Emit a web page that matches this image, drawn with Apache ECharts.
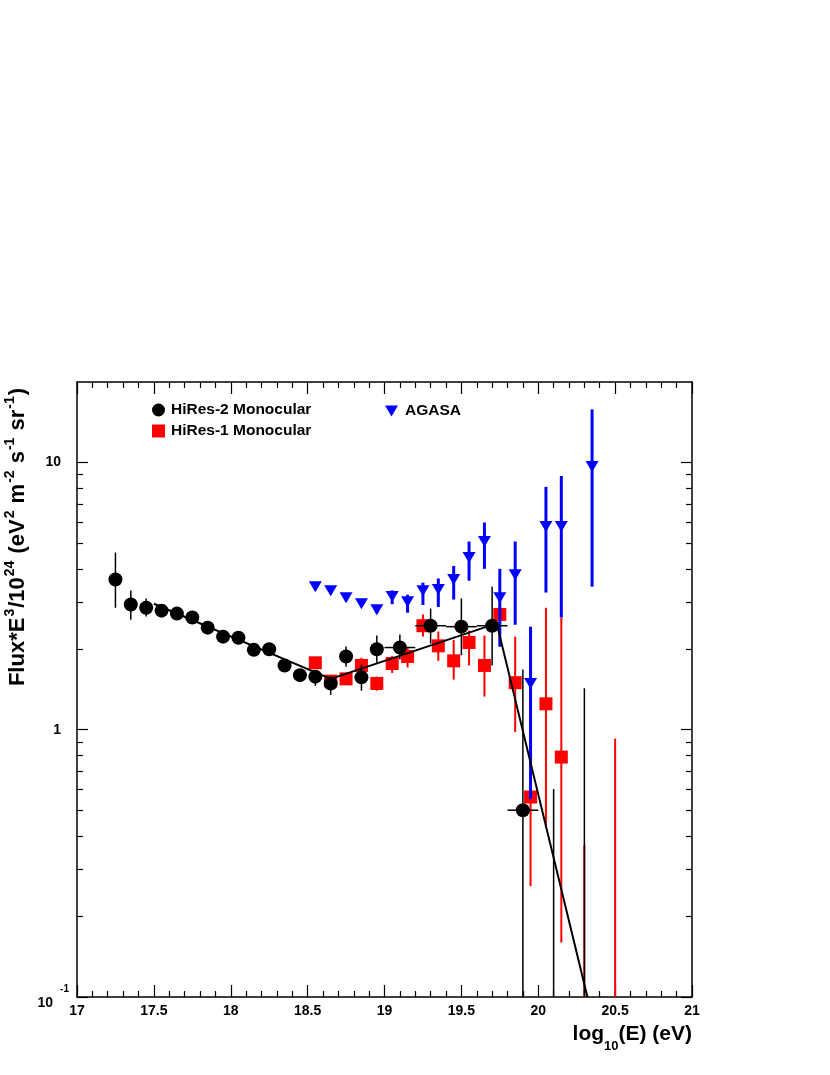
<!DOCTYPE html>
<html>
<head>
<meta charset="utf-8">
<script src="https://cdn.jsdelivr.net/npm/echarts@6/dist/echarts.min.js"></script>
<style>
  html, body { margin: 0; padding: 0; background: #fff; }
  #chart { width: 830px; height: 1075px; }
</style>
</head>
<body>
<div id="chart"></div>
<script>
    // HiRes-2 monocular (black circles)
    var hires2X = [17.25, 17.35, 17.45, 17.55, 17.65, 17.75, 17.85, 17.95, 18.05, 18.15, 18.25, 18.35, 18.45, 18.55, 18.65, 18.75, 18.85, 18.95, 19.1, 19.3, 19.5, 19.7, 19.9];
    var hires2Y = [3.65, 2.94, 2.86, 2.79, 2.72, 2.63, 2.41, 2.23, 2.21, 1.99, 2.0, 1.74, 1.60, 1.58, 1.49, 1.88, 1.57, 2.0, 2.03, 2.45, 2.43, 2.45, 0.5];
    var hires2Lo = [2.86, 2.58, 2.65, 2.65, 2.6, 2.52, 2.31, 2.13, 2.11, 1.9, 1.91, 1.67, 1.51, 1.46, 1.35, 1.72, 1.40, 1.78, 1.83, 2.1, 1.9, 1.74, 0.01];
    var hires2Hi = [4.6, 3.32, 3.1, 2.93, 2.85, 2.75, 2.52, 2.34, 2.32, 2.09, 2.1, 1.82, 1.68, 1.64, 1.58, 2.05, 1.75, 2.25, 2.27, 2.84, 3.1, 3.43, 1.68];
    var hires2XErr = [0, 0, 0, 0, 0, 0, 0, 0, 0, 0, 0, 0, 0, 0, 0, 0, 0, 0, 0.1, 0.1, 0.1, 0.1, 0.1];
    // bins with only an upper error bar
    var hires2UpX = [20.1, 20.3];
    var hires2UpHi = [0.6, 1.43];

    // HiRes-1 monocular (red squares)
    var hires1X = [18.55, 18.65, 18.75, 18.85, 18.95, 19.05, 19.15, 19.25, 19.35, 19.45, 19.55, 19.65, 19.75, 19.85, 19.95, 20.05, 20.15];
    var hires1Y = [1.78, 1.52, 1.55, 1.74, 1.49, 1.77, 1.88, 2.45, 2.06, 1.81, 2.12, 1.74, 2.70, 1.50, 0.56, 1.25, 0.79];
    var hires1Lo = [1.70, 1.45, 1.48, 1.62, 1.40, 1.63, 1.71, 2.23, 1.81, 1.54, 1.74, 1.33, 2.04, 0.98, 0.26, 0.43, 0.16];
    var hires1Hi = [1.86, 1.59, 1.62, 1.86, 1.58, 1.89, 2.03, 2.70, 2.33, 2.17, 2.35, 2.25, 3.1, 2.23, 1.2, 2.86, 2.63];
    var hires1UpX = [20.3, 20.5];
    var hires1UpHi = [0.37, 0.925];

    // AGASA (blue triangles)
    var agasaX = [18.55, 18.65, 18.75, 18.85, 18.95, 19.05, 19.15, 19.25, 19.35, 19.45, 19.55, 19.65, 19.75, 19.85, 19.95, 20.05, 20.15, 20.35];
    var agasaY = [3.43, 3.31, 3.12, 2.96, 2.81, 3.15, 3.01, 3.31, 3.35, 3.65, 4.41, 5.06, 3.12, 3.8, 1.49, 5.76, 5.76, 9.66];
    var agasaLo = [3.35, 3.23, 3.04, 2.88, 2.73, 2.95, 2.74, 2.93, 2.88, 3.07, 3.61, 4.0, 2.05, 2.47, 0.55, 3.26, 2.63, 3.43];
    var agasaHi = [3.51, 3.39, 3.2, 3.04, 2.89, 3.32, 3.2, 3.55, 3.68, 4.1, 5.06, 5.96, 4.0, 5.06, 2.43, 8.1, 8.9, 15.8];

    // broken power-law fit
    var fitX = [17.5, 18.65, 19.73, 20.32];
    var fitY = [2.96, 1.55, 2.5, 0.1];

    // axis ticks
    var xMin = 17, xMax = 21, xStep = 0.5;
    var yMin = 0.1, yMax = 20;
    var yMajor = [0.1, 1, 10];
    var yMinor = [0.2, 0.3, 0.4, 0.5, 0.6, 0.7, 0.8, 0.9, 2, 3, 4, 5, 6, 7, 8, 9];

    var FONT = '"Liberation Sans", Arial, Helvetica, sans-serif';
    var triDown = 'path://M0,0 L12,0 L6,10 Z';

    function errSeries(name, xs, ys, lo, hi, xerr, color, width, z) {
        return {
            type: 'custom',
            name: name,
            z: z,
            silent: true,
            data: xs.map(function (x, i) {
                return [x, ys[i] == null ? hi[i] : ys[i], lo ? lo[i] : 0.01, hi[i], xerr ? xerr[i] : 0];
            }),
            renderItem: function (params, api) {
                var x = api.value(0), y = api.value(1);
                var l = Math.max(api.value(2), yMin);
                var h = Math.min(api.value(3), yMax);
                var ex = api.value(4);
                var style = { stroke: color, lineWidth: width };
                var kids = [];
                var a = api.coord([x, h]), b = api.coord([x, l]);
                kids.push({ type: 'line', shape: { x1: a[0], y1: a[1], x2: b[0], y2: b[1] }, style: style });
                if (ex > 0) {
                    var c = api.coord([x - ex, y]), d = api.coord([x + ex, y]);
                    kids.push({ type: 'line', shape: { x1: c[0], y1: c[1], x2: d[0], y2: d[1] }, style: style });
                }
                return { type: 'group', children: kids };
            }
        };
    }

    function pairs(xs, ys) {
        return xs.map(function (x, i) { return [x, ys[i]]; });
    }

    var axisLine = { show: true, onZero: false, lineStyle: { color: '#000', width: 1.5 } };
    var noLine = { show: false, onZero: false };

    function xAx(pos, label) {
        return {
            type: 'value', min: xMin, max: xMax, interval: xStep, position: pos,
            axisLine: axisLine,
            axisTick: { inside: true, length: 12, lineStyle: { color: '#000', width: 1.2 } },
            minorTick: { show: true, splitNumber: 5, length: 6, lineStyle: { color: '#000', width: 1.2 } },
            splitLine: { show: false },
            axisLabel: {
                show: label, margin: 7, color: '#000', fontFamily: FONT, fontWeight: 'bold', fontSize: 14,
                formatter: function (v) { return String(v); }
            }
        };
    }

    // y axis used only for tick marks
    function yTicks(pos, ticks, len) {
        return {
            type: 'log', logBase: 10, min: yMin, max: yMax, position: pos,
            axisLine: noLine,
            axisTick: { show: true, inside: true, length: len, customValues: ticks, lineStyle: { color: '#000', width: 1.2 } },
            splitLine: { show: false },
            axisLabel: { show: false }
        };
    }

    var option = {
        backgroundColor: '#fff',
        animation: false,
        grid: { left: 77, right: 138, top: 382, bottom: 78, containLabel: false },
        xAxis: [xAx('bottom', true), xAx('top', false)],
        yAxis: [
            {
                type: 'log', logBase: 10, min: yMin, max: yMax, position: 'left',
                axisLine: axisLine,
                axisTick: { show: false },
                splitLine: { show: false },
                axisLabel: {
                    customValues: yMajor, margin: 8, color: '#000',
                    fontFamily: FONT, fontWeight: 'bold', fontSize: 14,
                    formatter: function (v) {
                        if (v < 0.5) return '{b|10}{s|-1}';
                        return v > 5 ? '{n|10}' : '{n|1}';
                    },
                    rich: {
                        n: { fontFamily: FONT, fontWeight: 'bold', fontSize: 14, padding: [0, 8, 0, 0] },
                        b: { fontFamily: FONT, fontWeight: 'bold', fontSize: 14, lineHeight: 26, verticalAlign: 'bottom' },
                        s: { fontFamily: FONT, fontWeight: 'bold', fontSize: 10, lineHeight: 26, verticalAlign: 'top', padding: [0, 0, 0, 7] }
                    }
                }
            },
            yTicks('left', yMajor, 11),
            yTicks('left', yMinor, 6),
            yTicks('right', yMajor, 11),
            yTicks('right', yMinor, 6),
            {
                type: 'log', logBase: 10, min: yMin, max: yMax, position: 'right',
                axisLine: axisLine, axisTick: { show: false }, axisLabel: { show: false }, splitLine: { show: false }
            }
        ],
        legend: [
            {
                data: ['HiRes-2 Monocular', 'HiRes-1 Monocular'], orient: 'vertical',
                left: 147, top: 397, itemWidth: 13, itemHeight: 13, itemGap: 5, selectedMode: false,
                textStyle: { fontFamily: FONT, fontWeight: 'bold', fontSize: 15.5, color: '#000', padding: [0, 0, 0, 1] }
            },
            {
                data: ['AGASA'], left: 380, top: 398, itemWidth: 13, itemHeight: 11, selectedMode: false,
                textStyle: { fontFamily: FONT, fontWeight: 'bold', fontSize: 15.5, color: '#000', padding: [0, 0, 0, 2] }
            }
        ],
        graphic: [
            {
                type: 'text', x: 18, y: 537, rotation: Math.PI / 2,
                style: {
                    text: 'Flux*E{s|3}/10{s|24} (eV{s|2} m{s|-2} s{s|-1} sr{s|-1})',
                    fontFamily: FONT, fontWeight: 'bold', fontSize: 22, fill: '#000',
                    align: 'center', verticalAlign: 'middle',
                    rich: {
                        s: { fontFamily: FONT, fontWeight: 'bold', fontSize: 14, verticalAlign: 'top', lineHeight: 29, padding: [0, 1, 0, 1] }
                    }
                }
            },
            {
                type: 'text', right: 138, top: 1024,
                style: {
                    text: 'log{d|10}(E) (eV)',
                    fontFamily: FONT, fontWeight: 'bold', fontSize: 21, fill: '#000',
                    rich: {
                        d: { fontFamily: FONT, fontWeight: 'bold', fontSize: 13, verticalAlign: 'bottom', lineHeight: 36 }
                    }
                }
            }
        ],
        series: [
            errSeries('hires1Err', hires1X, hires1Y, hires1Lo, hires1Hi, null, '#ff0000', 2, 2),
            errSeries('hires1Up', hires1UpX, [null, null], null, hires1UpHi, null, '#ff0000', 2, 2),
            {
                name: 'HiRes-1 Monocular', type: 'scatter', z: 3, symbol: 'rect', symbolSize: 13,
                itemStyle: { color: '#ff0000', opacity: 1 }, data: pairs(hires1X, hires1Y)
            },
            errSeries('agasaErr', agasaX, agasaY, agasaLo, agasaHi, null, '#0000ff', 3, 4),
            {
                name: 'AGASA', type: 'scatter', z: 5, symbol: triDown, symbolSize: [13, 11],
                itemStyle: { color: '#0000ff', opacity: 1 }, data: pairs(agasaX, agasaY)
            },
            errSeries('hires2Err', hires2X, hires2Y, hires2Lo, hires2Hi, hires2XErr, '#000', 1.5, 6),
            errSeries('hires2Up', hires2UpX, [null, null], null, hires2UpHi, null, '#000', 1.5, 6),
            {
                name: 'HiRes-2 Monocular', type: 'scatter', z: 7, symbol: 'circle', symbolSize: 14,
                itemStyle: { color: '#000', opacity: 1 }, data: pairs(hires2X, hires2Y)
            },
            {
                name: 'fit', type: 'line', z: 8, symbol: 'none', silent: true,
                lineStyle: { color: '#000', width: 2 }, data: pairs(fitX, fitY)
            }
        ]
    };

    var chart = echarts.init(document.getElementById('chart'));
    chart.setOption(option);

    window.addEventListener('resize', function () {
        chart.resize();
    });
</script>
</body>
</html>
